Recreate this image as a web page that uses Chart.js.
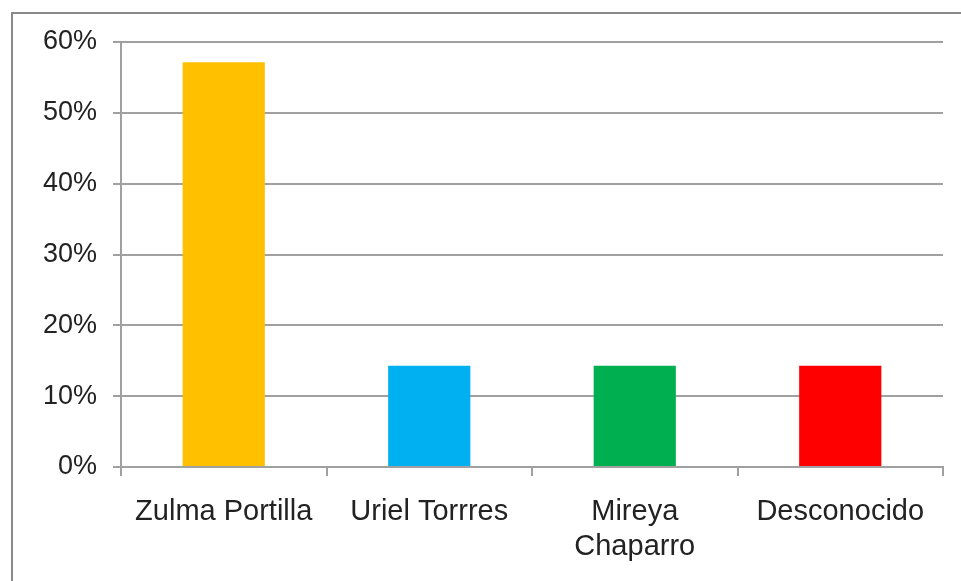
<!DOCTYPE html>
<html>
<head>
<meta charset="utf-8">
<script src="https://cdn.jsdelivr.net/npm/chart.js@4/dist/chart.umd.min.js"></script>
<style>
html,body{margin:0;padding:0;background:#fff;}
#wrap{position:relative;width:961px;height:581px;}
</style>
</head>
<body>
<div id="wrap"><canvas id="c" width="961" height="581"></canvas></div>
<script>
const categories = ["Zulma Portilla", "Uriel Torrres", ["Mireya", "Chaparro"], "Desconocido"];
const values = [57.14, 14.29, 14.29, 14.29];
const barColors = ["#FFC000", "#00B0F0", "#00B050", "#FF0000"];
const yTicks = [0, 10, 20, 30, 40, 50, 60];

const framePlugin = {
  id: 'frame',
  beforeDraw(chart) {
    const ctx = chart.ctx;
    ctx.save();
    ctx.strokeStyle = '#8a8a8a';
    ctx.lineWidth = 2;
    ctx.beginPath();
    ctx.moveTo(12, 581);
    ctx.lineTo(12, 13);
    ctx.lineTo(961, 13);
    ctx.stroke();
    ctx.restore();
  }
};

Chart.defaults.font.family = "'Liberation Sans', Arial, sans-serif";
Chart.defaults.color = '#222';

new Chart(document.getElementById('c'), {
  type: 'bar',
  data: {
    labels: categories,
    datasets: [{
      data: values,
      backgroundColor: barColors,
      borderWidth: 0,
      categoryPercentage: 1.0,
      barPercentage: 0.4
    }]
  },
  options: {
    responsive: false,
    animation: false,
    events: [],
    layout: { padding: { left: 0, right: 18, top: 42, bottom: 0 } },
    plugins: { legend: { display: false }, tooltip: { enabled: false } },
    scales: {
      x: {
        grid: { drawOnChartArea: false, drawTicks: true, tickLength: 9, color: '#a0a0a0', lineWidth: 2, offset: true },
        border: { color: '#a0a0a0', width: 2 },
        ticks: { font: { size: 29 }, color: '#222', padding: 19, maxRotation: 0, autoSkip: false },
        afterFit(s) { s.height = 114; }
      },
      y: {
        min: 0, max: 60,
        afterBuildTicks(s) { s.ticks = yTicks.map(v => ({ value: v })); },
        grid: { color: '#a0a0a0', lineWidth: 2, drawTicks: true, tickLength: 8 },
        border: { color: '#a0a0a0', width: 2 },
        ticks: { font: { size: 27 }, color: '#222', padding: 16, callback: v => v + '%' },
        afterFit(s) { s.width = 121; }
      }
    }
  },
  plugins: [framePlugin]
});
</script>
</body>
</html>
